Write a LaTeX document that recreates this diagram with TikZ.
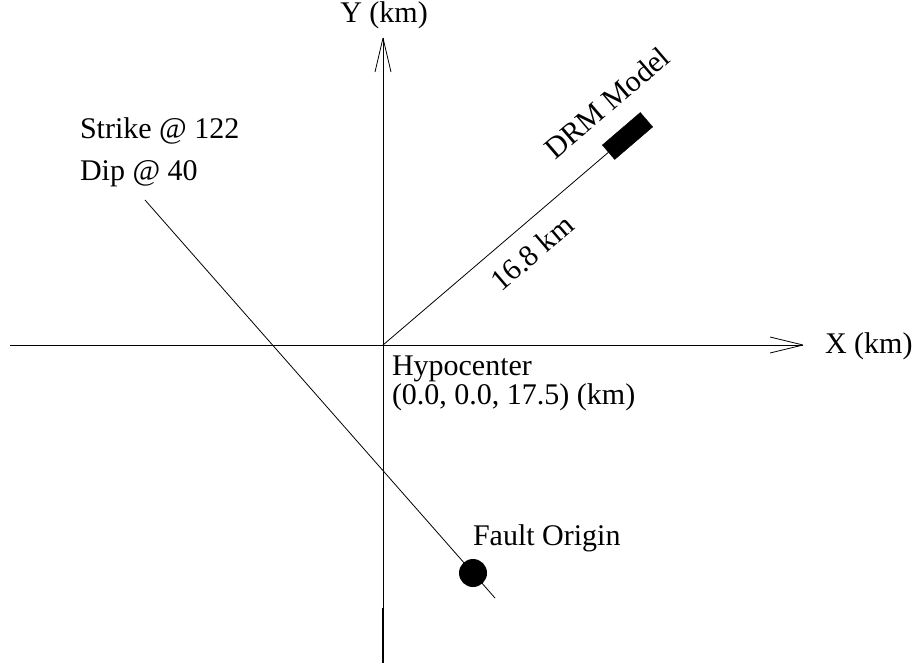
\documentclass[tikz,border=0pt]{standalone}
\usepackage{fontspec}
\setmainfont{Liberation Serif}
\begin{document}
\begin{tikzpicture}[x=1pt,y=-1pt,
  lbl/.style={inner sep=0pt,outer sep=0pt,font=\fontsize{30}{34}\selectfont},
  thinline/.style={line width=0.8pt},
  thickline/.style={line width=2.4pt}]
\useasboundingbox (0,0) rectangle (917,666);
% axes
\coordinate (O) at (383,345);
\coordinate (xl) at (10,345);
\coordinate (xtip) at (803,345);
\coordinate (ytip) at (383,38);
\coordinate (yb) at (383,663);
\coordinate (yk) at (383,608);
\draw[thinline] (xl) -- (xtip);
\draw[thinline] (xtip) -- ++(-33,-8) (xtip) -- ++(-33,8);
\draw[thinline] (ytip) -- (yb);
\draw[thinline] (ytip) -- ++(-8,34) (ytip) -- ++(8,34);
\draw[thickline] (yk) -- (yb);
% labels
\node[lbl,anchor=base] (ylab) at (384,23) {Y (km)};
\node[lbl,anchor=base west] (xlab) at (825,353) {X (km)};
\node[lbl,anchor=base west] (strike) at (80,138) {Strike @ 122};
\node[lbl,anchor=base west] (dip) at (80,180) {Dip @ 40};
\node[lbl,anchor=base west] (hypo) at (392,375) {Hypocenter};
\node[lbl,anchor=base west] (hypoc) at (392,404) {(0.0, 0.0, 17.5) (km)};
\node[lbl,anchor=base west] (fo) at (473,545) {Fault Origin};
% DRM model
\node[draw,fill=black,rotate=40.6,minimum width=50pt,minimum height=19pt,inner sep=0pt] (drm) at (627.5,136) {};
\draw[thinline] (O) -- (drm);
\node[lbl,rotate=40.6] (drmlab) at (607,103) {DRM Model};
\node[lbl,rotate=40.6] (dist) at (532,253) {16.8 km};
% fault
\coordinate (fa) at (145,200);
\coordinate (fb) at (495,598);
\draw[thinline] (fa) -- (fb);
\node[circle,fill=black,minimum size=28pt,inner sep=0pt] (forig) at (473,573) {};
\end{tikzpicture}
\end{document}
